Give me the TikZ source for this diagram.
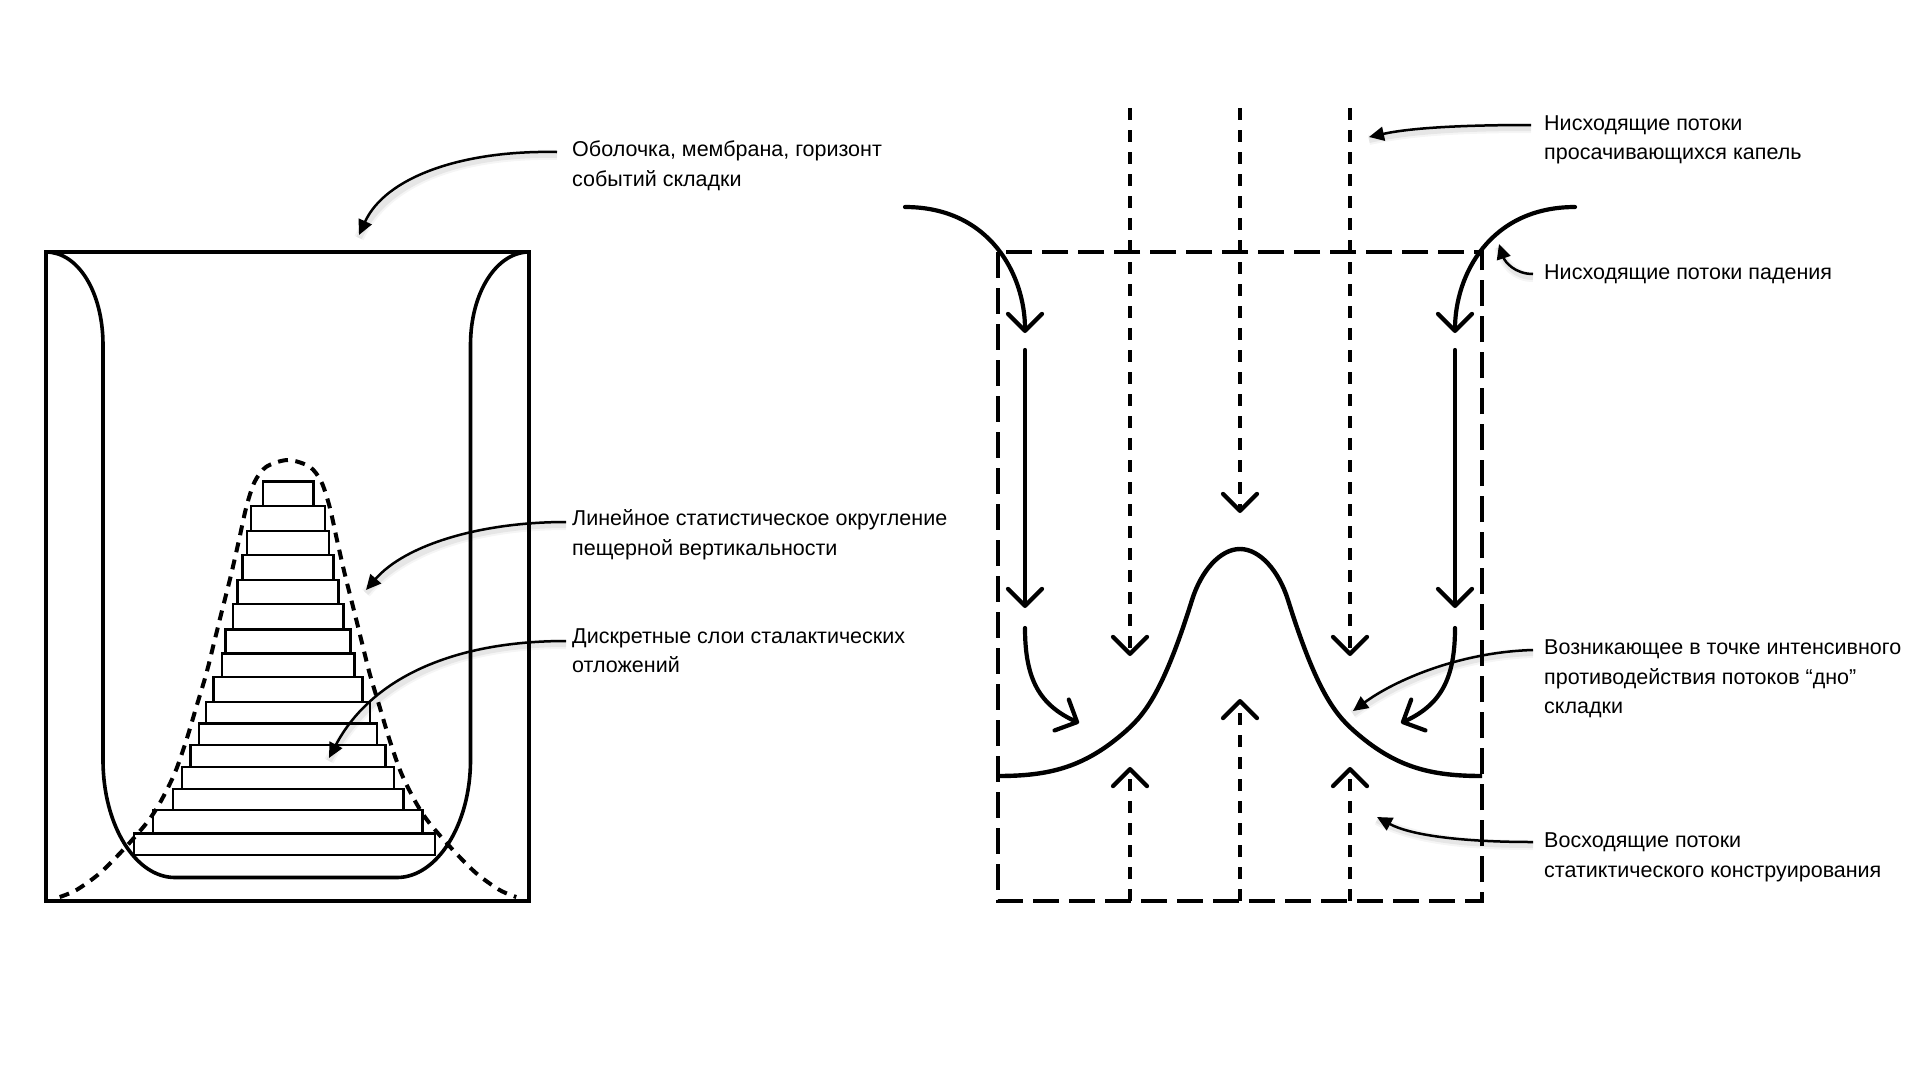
\documentclass[tikz,border=0pt]{standalone}
\usepackage{fontspec}
\setmainfont{Liberation Sans}
\usetikzlibrary{arrows.meta}
\begin{document}
\begin{tikzpicture}[x=1pt,y=-1pt,
  frame/.style={line width=4.2pt},
  ushape/.style={line width=3.6pt, line join=round},
  layer/.style={line width=2.4pt},
  dbell/.style={line width=4pt, dash pattern=on 10pt off 7.5pt},
  drect/.style={line width=4.6pt, dash pattern=on 26pt off 10pt},
  vdash/.style={line width=4.2pt, dash pattern=on 12pt off 10pt},
  flow/.style={line width=4.2pt, line cap=round},
  barb/.style={-{Straight Barb[length=17pt,width=34pt,round]}},
  bell/.style={line width=4.4pt, line cap=butt},
  annarrow/.style={line width=2.5pt, -{Triangle[length=15pt,width=14pt]},
    preaction={draw=black, opacity=0.04, line width=10pt, -, transform canvas={shift={(0pt,-3pt)}}},
    preaction={draw=black, opacity=0.06, line width=6pt, -, transform canvas={shift={(0pt,-3pt)}}}},
  anntext/.style={anchor=base west, align=left, inner sep=0pt, font=\fontsize{21.5}{29.5}\selectfont}
]
\useasboundingbox (0,0) rectangle (1920,1080);
\fill[white] (0,0) rectangle (1920,1080);

% ---------- left panel ----------
\draw[frame] (46,252) rectangle (529,901);
\draw[ushape] (46,252) .. controls (78,252) and (103,292) .. (103,345)
  -- (103,760) .. controls (103,825) and (135.3,877.5) .. (175,877.5)
  -- (397,877.5) .. controls (436.7,877.5) and (470.5,825) .. (470.5,760)
  -- (470.5,345) .. controls (470.5,292) and (497,252) .. (529,252);
\foreach \cx/\hw/\ya/\yb in {288/25.3/481.5/506, 288/37/506/530.7, 288/41.2/530.7/555,
  288/45.5/555/580, 288/50.5/580/604, 288/55.3/604/629.3, 288/62.5/629.3/653.3,
  288/66.3/653.3/676.7, 288/74.5/676.7/701.7, 288/82/701.7/723.3, 288/89.2/723.3/745,
  288/97.5/745/766.7, 288/106.2/766.7/789, 288/115.3/789/810, 287.5/134.8/810/833.3,
  284.5/150.5/833.3/855}
  \draw[layer] (\cx-\hw,\ya) rectangle (\cx+\hw,\yb);
\draw[dbell] plot[smooth] coordinates {(59.7,897) (76.4,890) (99.7,873.3) (123,850)
  (146.4,823.3) (159.7,803.3) (174.7,773.3) (186.4,740) (196.4,706.7) (206.4,673.3)
  (214.7,640) (223,606.7) (231.4,573.3) (239,540) (246.4,506.7) (254.7,481.7)
  (266.4,466.7) (288,460) (309.6,466.7) (321.3,481.7) (329.6,506.7) (337,540)
  (344.6,573.3) (353,606.7) (361.3,640) (369.6,673.3) (379.6,706.7) (389.6,740)
  (401.3,773.3) (416.3,803.3) (429.6,823.3) (453,850) (476.3,873.3) (499.6,890) (516.3,897)};

% ---------- right panel ----------
\draw[drect] (998,252) rectangle (1482,901);
\coordinate (lt) at (1130,108); \coordinate (ld) at (1130,656);
\coordinate (lb) at (1130,901); \coordinate (lu) at (1130,767);
\coordinate (ct) at (1240,108); \coordinate (cd) at (1240,513);
\coordinate (cb) at (1240,901); \coordinate (cu) at (1240,699);
\coordinate (rt) at (1350,108); \coordinate (rd) at (1350,656);
\coordinate (rb) at (1350,901); \coordinate (ru) at (1350,767);
\draw[vdash, barb] (lt) -- (ld);
\draw[vdash, barb] (lb) -- (lu);
\draw[vdash, barb] (ct) -- (cd);
\draw[vdash, barb] (cb) -- (cu);
\draw[vdash, barb] (rt) -- (rd);
\draw[vdash, barb] (rb) -- (ru);

\coordinate (bl) at (998,776); \coordinate (bp) at (1240,549); \coordinate (br) at (1482,776);
\draw[bell] (bl) .. controls (1048,776) and (1083,767.9) .. (1123,733.5)
  .. controls (1143,716.3) and (1162,696) .. (1192,600)
  .. controls (1201,571.2) and (1220,549) .. (bp)
  .. controls (1260,549) and (1279,571.2) .. (1288,600)
  .. controls (1318,696) and (1337,716.3) .. (1357,733.5)
  .. controls (1397,767.9) and (1432,776) .. (br);

\coordinate (a1s) at (905,207); \coordinate (a1e) at (1025,333);
\coordinate (a2s) at (1025,350); \coordinate (a2e) at (1025,608);
\coordinate (a3s) at (1025,628); \coordinate (a3e) at (1079,723);
\coordinate (b1s) at (1575,207); \coordinate (b1e) at (1455,333);
\coordinate (b2s) at (1455,350); \coordinate (b2e) at (1455,608);
\coordinate (b3s) at (1455,628); \coordinate (b3e) at (1401,723);
\draw[flow, barb] (a1s) .. controls (990,207) and (1025,275) .. (a1e);
\draw[flow, barb] (a2s) -- (a2e);
\draw[flow, barb] (a3s) .. controls (1025,680) and (1040,705) .. (a3e);
\draw[flow, barb] (b1s) .. controls (1490,207) and (1455,275) .. (b1e);
\draw[flow, barb] (b2s) -- (b2e);
\draw[flow, barb] (b3s) .. controls (1455,680) and (1440,705) .. (b3e);

% ---------- annotations ----------
\node[anntext] (t1) at (572,186) {Оболочка, мембрана, горизонт\\событий складки};
\node[anntext] (t2) at (572,555) {Линейное статистическое округление\\пещерной вертикальности};
\node[anntext] (t3) at (572,672.5) {Дискретные слои сталактических\\отложений};
\node[anntext] (t4) at (1544,159.5) {Нисходящие потоки\\просачивающихся капель};
\node[anntext] (t5) at (1544,279.5) {Нисходящие потоки падения};
\node[anntext] (t6) at (1544,713.5) {Возникающее в точке интенсивного\\противодействия потоков “дно”\\складки};
\node[anntext] (t7) at (1544,877) {Восходящие потоки\\статиктического конструирования};

\coordinate (p1s) at (557,152);  \coordinate (p1e) at (359,235);
\coordinate (p2s) at (566,522);  \coordinate (p2e) at (366,590);
\coordinate (p3s) at (566,641);  \coordinate (p3e) at (329,758);
\coordinate (p4s) at (1531,125); \coordinate (p4e) at (1369,137);
\coordinate (p5s) at (1533,274); \coordinate (p5e) at (1499,244);
\coordinate (p6s) at (1533,650); \coordinate (p6e) at (1353,711);
\coordinate (p7s) at (1533,842); \coordinate (p7e) at (1377,817);
\draw[annarrow] (p1s) .. controls (460,150) and (385,178) .. (p1e);
\draw[annarrow] (p2s) .. controls (480,522) and (405,545) .. (p2e);
\draw[annarrow] (p3s) .. controls (450,641) and (370,680) .. (p3e);
\draw[annarrow] (p4s) .. controls (1460,125) and (1410,128) .. (p4e);
\draw[annarrow] (p5s) .. controls (1515,274) and (1505,262) .. (p5e);
\draw[annarrow] (p6s) .. controls (1460,652) and (1395,680) .. (p6e);
\draw[annarrow] (p7s) .. controls (1460,842) and (1410,835) .. (p7e);
\end{tikzpicture}
\end{document}
